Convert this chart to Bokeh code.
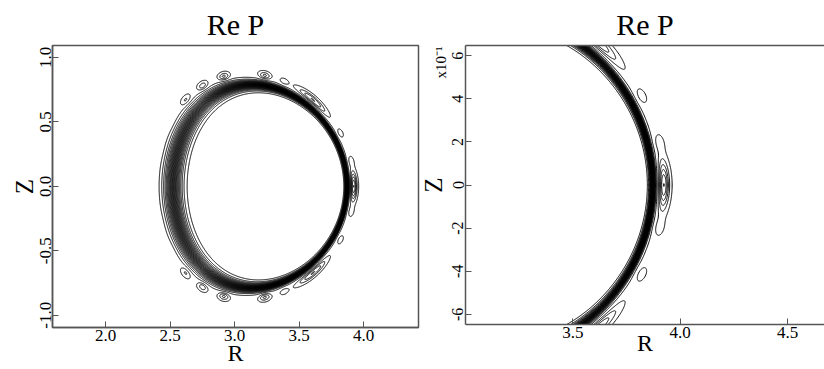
import numpy as np
from bokeh.plotting import figure
from bokeh.layouts import row
from bokeh.models import Range1d, FixedTicker, LinearAxis, Title
from bokeh.embed import file_html
from bokeh.resources import INLINE

# ---- flux-surface geometry ----
R_EDGE_CENTER = 3.155     # centre of the last surface
MINOR_RADIUS = 0.735
SHAFRANOV_SHIFT = 0.267
KAPPA_EDGE = 1.14
KAPPA_CORE_EXTRA = 0.176
TRIANGULARITY = 0.09

# ---- radial profile of Re P ----
PROFILE_CENTER = 0.9175
PROFILE_WIDTH = 0.0555
N_BAND = 28

# ---- edge blobs (upper half, mirrored to the lower half) ----
blob_theta_deg = [0, 13, 28, 50, 68, 79, 103, 117, 130, 146, 162]
blob_amp = [0.20, 0.035, 0.035, 0.13, 0.035, 0.10, 0.10, 0.08, 0.06, 0.015, 0.012]
blob_width_deg = [7, 2.8, 2.8, 9, 2.8, 3.2, 3.2, 3.2, 3.5, 4.5, 4.5]
BLOB_RHO = 1.045
BLOB_RHO_WIDTH = 0.032

levels = ([k / N_BAND for k in range(1, N_BAND)]
          + [1 + (0.3 + j) / N_BAND for j in range(8)])

left_x_ticks = [2.0, 2.5, 3.0, 3.5, 4.0]
left_y_ticks = [-1.0, -0.5, 0.0, 0.5, 1.0]
right_x_ticks = [3.5, 4.0, 4.5]
right_y_ticks = [-0.6, -0.4, -0.2, 0.0, 0.2, 0.4, 0.6]
right_y_labels = ["-6", "-4", "-2", "0", "2", "4", "6"]

FONT = "Liberation Serif"

# ---- field on a (rho, theta) grid ----
rho = np.linspace(0.70, 1.16, 461)
theta = np.radians(np.linspace(-180, 180, 1201))
RHO, TH = np.meshgrid(rho, theta, indexing="ij")


def softclip(u, eps=0.02):
    return eps * np.logaddexp(0, u / eps)


u = softclip(1 - RHO ** 2)
Rc = R_EDGE_CENTER + SHAFRANOV_SHIFT * u
kap = KAPPA_EDGE + KAPPA_CORE_EXTRA * u
X = Rc + MINOR_RADIUS * RHO * np.cos(TH + TRIANGULARITY * np.sin(TH))
Y = kap * MINOR_RADIUS * RHO * np.sin(TH)
F = 0.5 * (1 + np.tanh((RHO - PROFILE_CENTER) / PROFILE_WIDTH))
for th_k, A, w in zip(blob_theta_deg, blob_amp, blob_width_deg):
    signs = (1,) if th_k == 0 else (1, -1)
    for s in signs:
        d = np.angle(np.exp(1j * (TH - s * np.radians(th_k))))
        F = F + A * np.exp(-(d / np.radians(w)) ** 2 - ((RHO - BLOB_RHO) / BLOB_RHO_WIDTH) ** 2)


def style(p, xticks, yticks):
    p.xgrid.visible = False
    p.ygrid.visible = False
    p.title.text_font = FONT
    p.title.text_font_size = "30px"
    p.title.text_font_style = "normal"
    p.title.align = "center"
    p.title.standoff = 9
    p.title.text_color = "black"
    p.xaxis.ticker = FixedTicker(ticks=xticks)
    p.yaxis.ticker = FixedTicker(ticks=yticks)
    for ax in (p.xaxis[0], p.yaxis[0]):
        ax.major_tick_in = 6
        ax.major_tick_out = 0
        ax.minor_tick_line_color = None
        ax.axis_line_color = "#555555"
        ax.axis_line_width = 1.5
        ax.major_tick_line_color = "#555555"
        ax.major_label_text_font = FONT
        ax.major_label_text_font_size = "17px"
        ax.major_label_text_font_style = "normal"
        ax.major_label_text_color = "black"
        ax.axis_label_text_font = FONT
        ax.axis_label_text_font_size = "24px"
        ax.axis_label_text_font_style = "normal"
        ax.axis_label_text_color = "black"
    p.yaxis.major_label_orientation = "vertical"
    p.xaxis.major_label_standoff = 2
    p.yaxis.major_label_standoff = 1


# ---- left panel ----
p1 = figure(frame_width=366, frame_height=282, min_border_left=52, min_border_right=2,
            min_border_top=45, min_border_bottom=42,
            x_range=Range1d(1.589, 4.426), y_range=Range1d(-1.095, 1.093),
            title="Re P", x_axis_label="R", y_axis_label="Z",
            output_backend="svg", toolbar_location=None)
p1.contour(X, Y, F, levels, line_color="black", line_width=1)
style(p1, left_x_ticks, left_y_ticks)
p1.xaxis.axis_label_standoff = -4
p1.yaxis.axis_label_standoff = 0
p1.yaxis.axis_label_text_font_size = "25px"
p1.xaxis.major_label_overrides = {t: f"{t:.1f}" for t in left_x_ticks}
p1.yaxis.major_label_overrides = {t: f"{t:.1f}" for t in left_y_ticks}
p1.outline_line_color = "#555555"
p1.outline_line_width = 1.5

# ---- right panel ----
p2 = figure(frame_width=359, frame_height=279, min_border_left=45, min_border_right=0,
            min_border_top=44, min_border_bottom=46,
            x_range=Range1d(3.0, 4.672), y_range=Range1d(-0.647, 0.647),
            title="Re P", x_axis_label="R",
            output_backend="svg", toolbar_location=None)
p2.contour(X, Y, F, levels, line_color="black", line_width=1)
style(p2, right_x_ticks, right_y_ticks)
p2.xaxis.axis_label_standoff = -11
p2.xaxis.major_label_overrides = {t: f"{t:.1f}" for t in right_x_ticks}
p2.yaxis.major_label_overrides = dict(zip(right_y_ticks, right_y_labels))
p2.yaxis.major_label_text_font_size = "16px"
p2.yaxis.major_label_standoff = 2
p2.outline_line_color = None
top = LinearAxis(ticker=FixedTicker(ticks=[]), major_label_text_font_size="0px",
                 axis_line_color="#555555", axis_line_width=1.5,
                 major_tick_in=0, major_tick_out=0, major_label_standoff=0,
                 major_tick_line_color=None, minor_tick_line_color=None)
p2.add_layout(top, "above")
p2.add_layout(Title(text="x10\u207b\u00b9", align="right", vertical_align="middle",
                    offset=1, standoff=0, text_font=FONT, text_font_size="15px",
                    text_font_style="normal", text_color="black"), "left")
p2.add_layout(Title(text="Z", align="center", vertical_align="bottom",
                    standoff=-31, text_font=FONT, text_font_size="25px",
                    text_font_style="normal", text_color="black"), "left")

for p in (p1, p2):
    p.axis.major_label_text_font = FONT

layout = row(p1, p2)
open("out.html", "w").write(file_html(layout, INLINE))
